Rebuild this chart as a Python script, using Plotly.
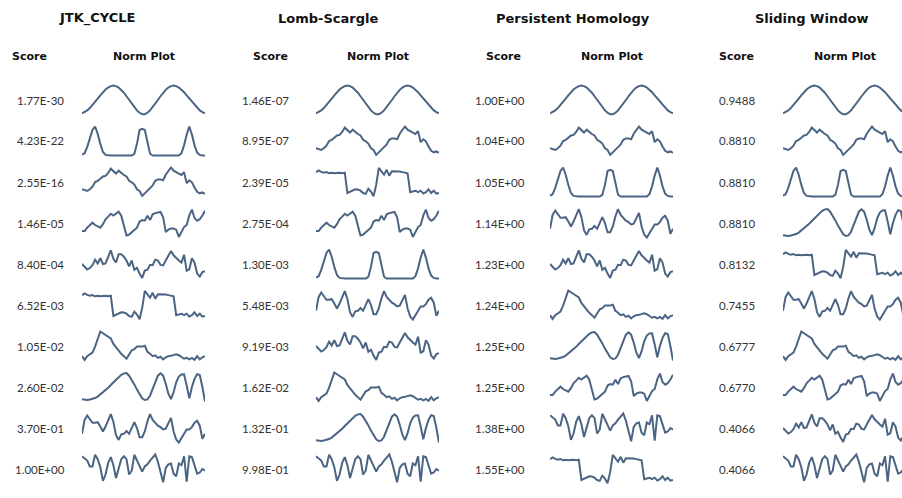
import plotly.graph_objects as go

W, H = 902, 498

methods = ["JTK_CYCLE", "Lomb-Scargle", "Persistent Homology", "Sliding Window"]

# ---- normalized signals ----
sig_A = [0.04, 0.08, 0.14, 0.22, 0.32, 0.43, 0.55, 0.66, 0.77, 0.86, 0.93, 0.98,
         1.0, 0.98, 0.93, 0.85, 0.75, 0.63, 0.5, 0.37, 0.25, 0.14, 0.06, 0.01,
         0.01, 0.06, 0.14, 0.25, 0.37, 0.5, 0.63, 0.75, 0.85, 0.93, 0.98, 1.0,
         0.98, 0.93, 0.86, 0.77, 0.66, 0.55, 0.43, 0.32, 0.22, 0.14, 0.08, 0.04]
sig_B = [0.03, 0.08, 0.3, 0.6, 0.88, 1.0, 0.75, 0.4, 0.12, 0.02, 0, 0,
         0, 0, 0, 0, 0, 0, 0, 0, 0.06, 0.4, 0.88, 0.92,
         0.88, 0.4, 0.06, 0, 0, 0, 0, 0, 0, 0, 0, 0,
         0, 0, 0.08, 0.35, 0.72, 1.0, 0.72, 0.35, 0.1, 0.02, 0, 0]
sig_C = [0.25, 0.21, 0.19, 0.25, 0.34, 0.5, 0.54, 0.61, 0.69, 0.71, 0.81, 0.96,
         0.88, 0.79, 0.89, 0.81, 0.74, 0.69, 0.54, 0.49, 0.41, 0.25, 0.19, 0.02,
         0.12, 0.21, 0.29, 0.38, 0.54, 0.59, 0.59, 0.56, 0.75, 0.88, 1.0, 0.89,
         0.84, 0.79, 0.74, 0.84, 0.46, 0.56, 0.49, 0.31, 0.16, 0.11, 0.14, 0.09]
sig_E = [0.22, 0.22, 0.34, 0.43, 0.51, 0.43, 0.37, 0.34, 0.46, 0.63, 0.72, 0.82,
         0.76, 0.84, 0.89, 0.75, 0.4, 0.07, 0.1, 0.19, 0.28, 0.34, 0.55, 0.6,
         0.58, 0.75, 0.6, 0.8, 0.84, 0.86, 0.88, 0.7, 0.19, 0.27, 0.31, 0.31,
         0.27, 0.02, 0.22, 0.36, 0.43, 0.76, 0.96, 0.67, 0.58, 0.63, 0.76, 0.92]
sig_F = [0.5, 0.4, 0.31, 0.36, 0.46, 0.65, 0.52, 0.7, 0.5, 0.52, 0.77, 0.97,
         0.68, 0.55, 0.84, 0.84, 0.75, 0.62, 0.42, 0.62, 0.3, 0.37, 0.17, 0.02,
         0.27, 0.3, 0.47, 0.46, 0.65, 0.62, 0.47, 0.45, 0.62, 0.77, 0.95, 0.8,
         0.7, 0.62, 0.55, 0.82, 0.27, 0.32, 0.7, 0.55, 0.17, 0.07, 0.22, 0.25]
sig_G = [0.84, 0.9, 0.85, 0.82, 0.84, 0.8, 0.82, 0.8, 0.81, 0.82, 0.8, 0.82,
         0.12, 0.17, 0.22, 0.25, 0.24, 0.2, 0.12, 0.09, 0.27, 0.17, 0.01, 0.4,
         0.99, 0.87, 0.75, 0.92, 0.72, 0.87, 0.87, 0.87, 0.86, 0.84, 0.81, 0.8,
         0.15, 0.17, 0.2, 0.15, 0.2, 0.1, 0.15, 0.25, 0.12, 0.2, 0.1, 0.12]
sig_H = [0.15, 0.02, 0.15, 0.21, 0.27, 0.48, 0.76, 1.0, 0.94, 0.88, 0.82, 0.76,
         0.57, 0.45, 0.33, 0.23, 0.15, 0.06, 0.21, 0.35, 0.39, 0.48, 0.48, 0.48,
         0.51, 0.3, 0.23, 0.15, 0.18, 0.09, 0.13, 0.04, 0.11, 0.15, 0.16, 0.18,
         0.21, 0.18, 0.13, 0.06, 0.09, 0.04, 0.09, 0.02, 0.15, 0.04, 0.11, 0.15]
sig_I = [0.08, 0.06, 0.05, 0.07, 0.09, 0.12, 0.17, 0.24, 0.3, 0.38, 0.47, 0.57,
         0.66, 0.75, 0.84, 0.92, 0.97, 0.98, 0.89, 0.75, 0.59, 0.41, 0.24, 0.11,
         0.05, 0.07, 0.2, 0.43, 0.68, 0.89, 0.97, 0.89, 0.61, 0.27, 0.08, 0.32,
         0.66, 0.86, 0.93, 0.94, 0.55, 0.11, 0.5, 0.78, 0.94, 0.91, 0.5, 0.0]
sig_J = [0.3, 0.78, 0.93, 0.8, 0.68, 0.68, 0.7, 0.55, 0.38, 0.55, 0.78, 0.98,
         0.71, 0.25, 0.09, 0.28, 0.3, 0.4, 0.3, 0.53, 0.7, 0.5, 0.18, 0.18,
         0.38, 0.73, 0.98, 0.78, 0.68, 0.58, 0.53, 0.45, 0.48, 0.68, 0.85, 0.38,
         0.1, 0.0, 0.15, 0.34, 0.45, 0.45, 0.53, 0.68, 0.75, 0.58, 0.13, 0.3]
sig_K = [0.94, 0.88, 0.79, 0.59, 0.59, 0.99, 0.84, 0.56, 0.09, 0.31, 0.71, 0.91,
         0.63, 0.19, 0.5, 0.84, 0.94, 0.84, 0.31, 0.44, 0.99, 0.78, 0.56, 0.41,
         0.59, 0.66, 0.79, 0.88, 1.0, 0.75, 0.34, 0.04, 0.54, 0.66, 0.69, 0.34,
         0.25, 0.69, 0.63, 0.94, 0.06, 0.94, 0.91, 0.59, 0.34, 0.38, 0.5, 0.44]

signals = {"A": sig_A, "B": sig_B, "C": sig_C, "E": sig_E, "F": sig_F,
           "G": sig_G, "H": sig_H, "I": sig_I, "J": sig_J, "K": sig_K}

order_jtk = ["A", "B", "C", "E", "F", "G", "H", "I", "J", "K"]
order_ls = ["A", "C", "G", "E", "B", "J", "F", "H", "I", "K"]
order_ph = ["A", "C", "B", "J", "F", "H", "I", "E", "K", "G"]
order_sw = ["A", "C", "B", "I", "G", "J", "H", "E", "F", "K"]

scores_jtk = ["1.77E-30", "4.23E-22", "2.55E-16", "1.46E-05", "8.40E-04",
              "6.52E-03", "1.05E-02", "2.60E-02", "3.70E-01", "1.00E+00"]
scores_ls = ["1.46E-07", "8.95E-07", "2.39E-05", "2.75E-04", "1.30E-03",
             "5.48E-03", "9.19E-03", "1.62E-02", "1.32E-01", "9.98E-01"]
scores_ph = ["1.00E+00", "1.04E+00", "1.05E+00", "1.14E+00", "1.23E+00",
             "1.24E+00", "1.25E+00", "1.25E+00", "1.38E+00", "1.55E+00"]
scores_sw = ["0.9488", "0.8810", "0.8810", "0.8810", "0.8132",
             "0.7455", "0.6777", "0.6770", "0.4066", "0.4066"]

orders = [order_jtk, order_ls, order_ph, order_sw]
scores = [scores_jtk, scores_ls, scores_ph, scores_sw]

# ---- layout geometry (pixels) ----
title_x = [97, 328, 573, 811]
score_x = [40, 265, 500, 737]
hdr_score_x = [30, 270, 504, 736]
plot_x0 = [82, 316, 550, 783]
plot_w = 123
row_y0 = 100
row_dy = 41
half_h = 14.5
pad = 0.1

LINE = "#4b6483"
FONT_NUM = "Lato"
FONT_HDR = "DejaVu Sans"

fig = go.Figure()
layout = {}
ann = []

def px(x):
    return x / W

def py(y):
    return 1 - y / H

n = 0
for m in range(4):
    ann.append(dict(text="<b>%s</b>" % methods[m], x=px(title_x[m]), y=py(18),
                    font=dict(size=13, color="#111111", family=FONT_HDR)))
    ann.append(dict(text="<b>Score</b>", x=px(hdr_score_x[m]), y=py(57),
                    font=dict(size=11, color="#111111", family=FONT_HDR)))
    ann.append(dict(text="<b>Norm Plot</b>", x=px(plot_x0[m] + plot_w / 2), y=py(57),
                    font=dict(size=11, color="#111111", family=FONT_HDR)))
    for r in range(10):
        n += 1
        cy = row_y0 + r * row_dy
        vals = signals[orders[m][r]]
        npts = len(vals)
        xs = list(range(npts))
        xn = "x" if n == 1 else "x%d" % n
        yn = "y" if n == 1 else "y%d" % n
        fig.add_trace(go.Scatter(x=xs, y=vals, mode="lines",
                                 line=dict(color=LINE, width=2),
                                 xaxis=xn, yaxis=yn, hoverinfo="skip",
                                 showlegend=False))
        x1 = min(plot_x0[m] + plot_w, W)
        xr = (npts - 1) * (x1 - plot_x0[m]) / plot_w
        layout["xaxis" if n == 1 else "xaxis%d" % n] = dict(
            domain=[px(plot_x0[m]), px(x1)], range=[0, xr], visible=False,
            anchor=yn, fixedrange=True)
        ext = half_h * (1 + 2 * pad)
        layout["yaxis" if n == 1 else "yaxis%d" % n] = dict(
            domain=[py(cy + ext), py(cy - ext)], range=[-pad, 1 + pad],
            visible=False, anchor=xn, fixedrange=True)
        ann.append(dict(text=scores[m][r], x=px(score_x[m]), y=py(cy),
                        font=dict(size=11.5, color="#333333", family=FONT_NUM)))

for a in ann:
    a.update(xref="paper", yref="paper", showarrow=False,
             xanchor="center", yanchor="middle")

fig.update_layout(width=W, height=H, margin=dict(l=0, r=0, t=0, b=0),
                  paper_bgcolor="white", plot_bgcolor="white",
                  annotations=ann, **layout)

fig.write_html("out.html", config={"displayModeBar": False},
               post_script="document.body.style.margin='0';"
                           "document.body.style.overflow='hidden';")
